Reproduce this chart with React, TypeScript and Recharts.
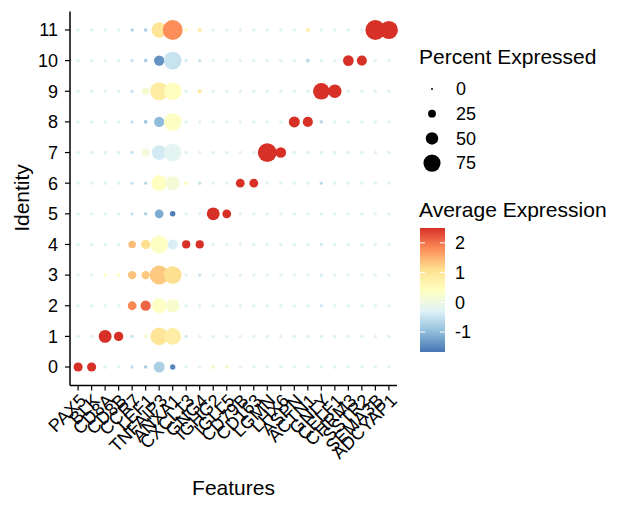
import { ScatterChart, Scatter, XAxis, YAxis } from 'recharts'

// features on the x axis (order as in the plot)
const features = [
  'PAX5', 'BLK', 'CD8A', 'CD8B', 'CCR7', 'LEF1', 'TNFAIP3', 'ANXA1',
  'CXCL13', 'GNG4', 'IGHG2', 'IGLL5', 'CD79B', 'CD163', 'LGMN', 'LHX6',
  'ASPN', 'ACTN1', 'GNLY', 'CELF1', 'CHRM3', 'SSTR2', 'SEMA3B', 'ADCYAP1',
]
const identities = [0, 1, 2, 3, 4, 5, 6, 7, 8, 9, 10, 11]

// percent expressed, one array per identity
const pct0 = [32, 32, 1, 1, 1, 1, 42, 12, 1, 1, 6, 4, 1, 1, 1, 1, 1, 1, 1, 1, 1, 1, 1, 1]
const pct1 = [1, 1, 52, 33, 1, 5, 77, 72, 1, 1, 1, 1, 1, 1, 1, 1, 1, 1, 1, 1, 1, 1, 1, 1]
const pct2 = [1, 1, 1, 1, 30, 38, 63, 55, 1, 1, 1, 1, 1, 1, 1, 1, 1, 1, 1, 1, 1, 1, 1, 1]
const pct3 = [1, 1, 2, 2, 28, 28, 85, 78, 1, 1, 1, 1, 1, 1, 1, 1, 1, 1, 1, 1, 1, 1, 1, 1]
const pct4 = [1, 1, 1, 1, 23, 33, 80, 37, 27, 27, 1, 1, 1, 1, 1, 1, 1, 1, 1, 1, 1, 1, 1, 1]
const pct5 = [1, 1, 1, 1, 1, 1, 30, 12, 1, 1, 52, 30, 1, 1, 1, 1, 1, 1, 1, 1, 1, 1, 1, 1]
const pct6 = [1, 1, 1, 1, 1, 1, 67, 58, 2, 1, 1, 1, 30, 30, 1, 1, 1, 1, 1, 1, 1, 1, 1, 1]
const pct7 = [1, 1, 1, 1, 1, 25, 62, 78, 1, 1, 1, 1, 1, 1, 84, 40, 1, 1, 1, 1, 1, 1, 1, 1]
const pct8 = [1, 1, 1, 1, 1, 2, 38, 78, 1, 1, 1, 1, 1, 1, 1, 1, 42, 37, 2, 1, 1, 1, 1, 1]
const pct9 = [1, 1, 1, 1, 1, 20, 80, 78, 1, 5, 1, 1, 1, 1, 1, 1, 1, 1, 72, 55, 1, 1, 1, 1]
const pct10 = [1, 1, 1, 1, 1, 2, 38, 78, 1, 1, 1, 1, 1, 1, 1, 4, 1, 4, 1, 1, 40, 37, 1, 1]
const pct11 = [1, 1, 1, 1, 1, 2, 65, 90, 2, 5, 1, 1, 1, 1, 1, 1, 1, 4, 1, 1, 1, 1, 90, 80]

// average expression (scaled), one array per identity
const avg0 = [2.5, 2.5, -0.3, -0.3, -0.55, -0.8, -0.75, -1.5, -0.3, -0.3, 0.2, 0.2, -0.3, -0.3, -0.3, -0.3, -0.3, -0.3, -0.3, -0.3, -0.3, -0.3, -0.3, -0.3]
const avg1 = [-0.3, -0.3, 2.5, 2.5, -0.5, 0.2, 1.0, 0.8, -0.4, -0.3, -0.3, -0.3, -0.3, -0.3, -0.3, -0.3, -0.3, -0.3, -0.3, -0.3, -0.3, -0.3, -0.3, -0.3]
const avg2 = [-0.3, -0.3, -0.2, -0.2, 1.85, 2.1, 0.35, 0.25, -0.3, -0.3, -0.3, -0.3, -0.3, -0.3, -0.3, -0.3, -0.3, -0.3, -0.4, -0.3, -0.3, -0.3, -0.3, -0.3]
const avg3 = [-0.3, -0.3, 0.4, 0.4, 1.35, 1.3, 1.3, 1.1, -0.3, -0.5, -0.3, -0.3, -0.3, -0.3, -0.3, -0.3, -0.3, -0.3, -0.4, -0.3, -0.3, -0.3, -0.3, -0.3]
const avg4 = [-0.3, -0.3, -0.3, -0.3, 1.4, 1.1, 0.35, -0.35, 2.5, 2.5, -0.3, -0.3, -0.3, -0.3, -0.3, -0.3, -0.3, -0.3, -0.4, -0.3, -0.3, -0.3, -0.3, -0.3]
const avg5 = [-0.3, -0.3, -0.3, -0.3, -0.5, -0.8, -1.15, -1.6, -0.3, -0.3, 2.5, 2.5, -0.3, -0.3, -0.3, -0.3, -0.3, -0.3, -0.3, -0.3, -0.3, -0.3, -0.3, -0.3]
const avg6 = [-0.3, -0.3, -0.3, -0.3, -0.5, -0.6, 0.4, 0.15, 0.5, -0.5, -0.3, -0.3, 2.5, 2.5, -0.3, -0.3, -0.3, -0.3, -0.6, -0.3, -0.3, -0.3, -0.3, -0.3]
const avg7 = [-0.3, -0.3, -0.3, -0.3, -0.5, 0.1, -0.4, -0.2, -0.3, -0.3, -0.3, -0.3, -0.3, -0.3, 2.5, 2.5, -0.3, -0.3, -0.3, -0.3, -0.3, -0.3, -0.3, -0.3]
const avg8 = [-0.3, -0.3, -0.3, -0.3, -0.5, -0.9, -1.0, 0.35, -0.3, -0.3, -0.3, -0.3, -0.3, -0.3, -0.3, -0.3, 2.5, 2.5, -0.6, -0.3, -0.3, -0.3, -0.3, -0.3]
const avg9 = [-0.3, -0.3, -0.3, -0.3, -0.5, 0.2, 0.85, 0.45, -0.3, 0.9, -0.3, -0.3, -0.3, -0.3, -0.3, -0.3, -0.3, -0.3, 2.5, 2.5, -0.3, -0.3, -0.3, -0.3]
const avg10 = [-0.3, -0.3, -0.3, -0.3, -0.5, -0.8, -1.4, -0.5, -0.4, -0.5, -0.3, -0.3, -0.3, -0.3, -0.3, -0.2, -0.3, -0.6, -0.3, -0.3, 2.5, 2.5, -0.3, -0.3]
const avg11 = [-0.3, -0.3, -0.3, -0.3, -0.7, -0.8, 1.0, 1.8, 0.5, 0.8, -0.3, -0.3, -0.3, -0.3, -0.3, -0.3, -0.3, 0.8, -0.3, -0.3, -0.3, -0.3, 2.5, 2.5]

const pctRows = [pct0, pct1, pct2, pct3, pct4, pct5, pct6, pct7, pct8, pct9, pct10, pct11]
const avgRows = [avg0, avg1, avg2, avg3, avg4, avg5, avg6, avg7, avg8, avg9, avg10, avg11]

const sizeBreaks = [0, 25, 50, 75]
const colorBreaks = [2, 1, 0, -1]
const AVG_MAX = 2.5
const AVG_MIN = -1.67

// RdYlBu, high -> low
const palette = ['#D73027', '#FC8D59', '#FEE090', '#FFFFBF', '#E0F3F8', '#91BFDB', '#4575B4']

const FONT = '"Liberation Sans", Arial, sans-serif'

const hexToRgb = (h: string) => [1, 3, 5].map(i => parseInt(h.slice(i, i + 2), 16))

function avgColor(v: number) {
  let t = (AVG_MAX - v) / (AVG_MAX - AVG_MIN)
  t = Math.min(1, Math.max(0, t)) * (palette.length - 1)
  const i = Math.min(palette.length - 2, Math.floor(t))
  const f = t - i
  const a = hexToRgb(palette[i])
  const b = hexToRgb(palette[i + 1])
  const c = a.map((x, k) => Math.round(x + (b[k] - x) * f))
  return `rgb(${c[0]},${c[1]},${c[2]})`
}

const radius = (p: number) => 1.6 + p * 0.093

const data = identities.flatMap(id =>
  features.map((name, j) => ({
    x: j,
    y: id,
    feature: name,
    pct: pctRows[id][j],
    avg: avgRows[id][j],
  }))
)

const Dot = (props: any) => {
  const { cx, cy, payload } = props
  return <circle cx={cx} cy={cy} r={radius(payload.pct)} fill={avgColor(payload.avg)} />
}

const FeatureTick = (props: any) => {
  const { x, y, payload } = props
  return (
    <text
      transform={`translate(${x},${y}) rotate(-45)`}
      textAnchor="end"
      dy="0.72em"
      fontSize={18}
      fontFamily={FONT}
      fill="#000"
    >
      {features[payload.value]}
    </text>
  )
}

function Legends() {
  const barTop = 228
  const barH = 124
  const yOf = (v: number) => barTop + ((AVG_MAX - v) / (AVG_MAX - AVG_MIN)) * barH
  return (
    <svg width={625} height={511} style={{ position: 'absolute', left: 0, top: 0 }}>
      <defs>
        <linearGradient id="avgGrad" x1="0" y1="0" x2="0" y2="1">
          {palette.map((c, i) => (
            <stop key={c} offset={i / (palette.length - 1)} stopColor={c} />
          ))}
        </linearGradient>
      </defs>
      <g fontFamily={FONT} fill="#000">
        <text x={419} y={64} fontSize={21}>Percent Expressed</text>
        {sizeBreaks.map((b, i) => (
          <g key={b}>
            <circle cx={432} cy={89 + i * 24.7} r={b === 0 ? 1 : radius(b)} fill="#000" />
            <text x={456} y={89 + i * 24.7} dy="0.35em" fontSize={18}>{b}</text>
          </g>
        ))}
        <text x={419} y={217} fontSize={21}>Average Expression</text>
        <rect x={420} y={barTop} width={25} height={barH} fill="url(#avgGrad)" />
        {colorBreaks.map(b => (
          <g key={b}>
            <line x1={420} x2={425} y1={yOf(b)} y2={yOf(b)} stroke="#fff" strokeWidth={1} />
            <line x1={440} x2={445} y1={yOf(b)} y2={yOf(b)} stroke="#fff" strokeWidth={1} />
            <text x={455} y={yOf(b)} dy="0.35em" fontSize={18}>{b}</text>
          </g>
        ))}
        <text x={233.5} y={495} fontSize={21} textAnchor="middle">Features</text>
        <text transform="translate(29,198) rotate(-90)" fontSize={21} textAnchor="middle">Identity</text>
      </g>
    </svg>
  )
}

export default function App() {
  return (
    <div style={{ position: 'absolute', left: 0, top: 0, width: 625, height: 511, background: '#fff' }}>
      <ScatterChart
        width={625}
        height={511}
        margin={{ top: 11.6, right: 228, bottom: 5, left: 30 }}
      >
        <XAxis
          type="number"
          dataKey="x"
          domain={[-0.6, 23.6]}
          ticks={features.map((_, i) => i)}
          interval={0}
          height={120.6}
          tick={<FeatureTick />}
          tickSize={5}
          tickMargin={2}
          axisLine={{ stroke: '#000', strokeWidth: 1.5 }}
          tickLine={{ stroke: '#000', strokeWidth: 1.2 }}
        />
        <YAxis
          type="number"
          dataKey="y"
          domain={[-0.6, 11.6]}
          ticks={identities}
          interval={0}
          width={40}
          tickSize={5}
          tickMargin={7}
          tick={{ fontSize: 18, fill: '#000', fontFamily: FONT }}
          axisLine={{ stroke: '#000', strokeWidth: 1.5 }}
          tickLine={{ stroke: '#000', strokeWidth: 1.2 }}
        />
        <Scatter data={data} shape={<Dot />} isAnimationActive={false} />
      </ScatterChart>
      <Legends />
    </div>
  )
}
